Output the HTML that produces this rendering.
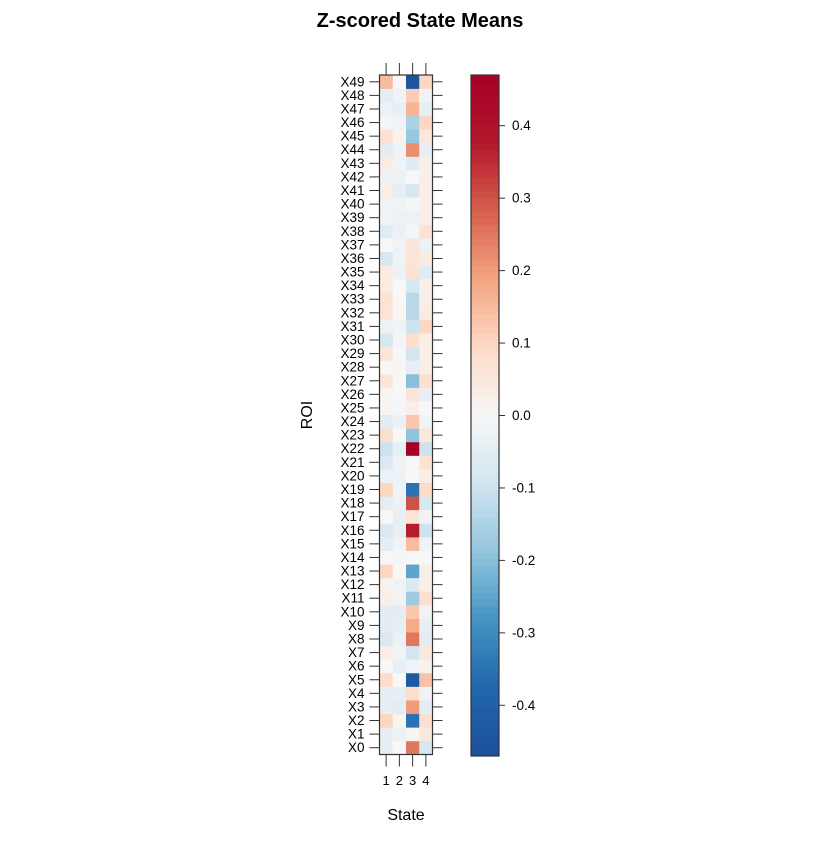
<!DOCTYPE html>
<html><head><meta charset="utf-8"><style>
body{margin:0;background:#fff}
svg text{font-family:"Liberation Sans",Arial,sans-serif}
</style></head><body>
<svg id="c" width="840" height="840" xmlns="http://www.w3.org/2000/svg">
<text x="420" y="27" text-anchor="middle" font-size="20" font-weight="bold">Z-scored State Means</text>
<text x="406" y="820" text-anchor="middle" font-size="16">State</text>
<text transform="translate(312,415) rotate(-90)" text-anchor="middle" font-size="16">ROI</text>
<g id="cells"></g>
<g id="axes"></g>
<g id="cbar"></g>
</svg>
<script>
const states = ["1","2","3","4"];
const rois = ["X0","X1","X2","X3","X4","X5","X6","X7","X8","X9","X10","X11","X12","X13","X14","X15","X16","X17","X18","X19","X20","X21","X22","X23","X24","X25","X26","X27","X28","X29","X30","X31","X32","X33","X34","X35","X36","X37","X38","X39","X40","X41","X42","X43","X44","X45","X46","X47","X48","X49"];
const state1 = [-0.04,-0.04,0.10,-0.04,-0.04,0.09,0.0,0.03,-0.07,-0.05,-0.05,0.03,0.02,0.10,0.0,-0.05,-0.07,0.0,-0.05,0.10,-0.03,-0.07,-0.10,0.08,-0.05,0.01,0.01,0.06,0.0,0.06,-0.08,-0.03,0.06,0.07,0.04,0.04,-0.08,0.0,-0.06,-0.02,-0.02,0.03,-0.03,0.04,-0.05,0.07,-0.01,-0.03,-0.05,0.15];
const state2 = [0.0,-0.03,0.01,-0.05,-0.04,0.0,-0.04,-0.02,-0.03,-0.04,-0.05,-0.02,-0.02,0.0,-0.01,-0.02,-0.04,-0.04,-0.03,-0.02,-0.03,-0.02,-0.04,0.0,-0.03,-0.01,0.0,0.0,-0.01,0.0,-0.01,-0.02,0.01,0.0,0.0,-0.03,-0.02,-0.02,-0.03,-0.03,-0.02,-0.04,-0.03,-0.02,-0.02,0.02,-0.02,-0.04,-0.02,0.0];
const state3 = [0.25,0.01,-0.35,0.20,0.08,-0.43,-0.02,-0.09,0.25,0.18,0.13,-0.17,-0.07,-0.25,0.0,0.15,0.37,0.06,0.30,-0.35,0.0,0.0,0.47,-0.19,0.13,0.03,0.06,-0.20,-0.04,-0.09,0.08,-0.10,-0.13,-0.13,-0.08,0.07,0.06,0.06,-0.01,-0.03,-0.01,-0.08,0.0,-0.06,0.22,-0.18,-0.15,0.16,0.12,-0.45];
const state4 = [-0.08,0.05,0.08,-0.05,-0.02,0.14,0.02,0.05,-0.05,-0.04,-0.02,0.08,0.03,0.03,0.0,-0.02,-0.10,-0.02,-0.08,0.09,0.03,0.07,-0.10,0.05,-0.02,0.0,-0.04,0.08,0.03,0.03,0.03,0.10,0.04,0.03,0.03,-0.06,0.04,-0.03,0.07,0.03,0.03,0.03,0.03,0.03,-0.04,0.05,0.10,-0.04,-0.02,0.10];
const colorTicks = [0.4,0.3,0.2,0.1,0.0,-0.1,-0.2,-0.3,-0.4];
const series=[state1,state2,state3,state4];
const vmin=-0.47,vmax=0.47;
const X0=379.5,X1=432.5,Y0=75,Y1=754.5;
const cw=(X1-X0)/states.length, rh=(Y1-Y0)/rois.length;
const pal=["#1c4f9c","#2166ac","#4393c3","#92c5de","#d1e5f0","#f7f7f7","#fddbc7","#f4a582","#d6604d","#b2182b","#a50026"];
function hex(h){return [1,3,5].map(i=>parseInt(h.substr(i,2),16));}
function color(v){let t=(v-vmin)/(vmax-vmin);t=Math.max(0,Math.min(1,t))*(pal.length-1);const i=Math.min(Math.floor(t),pal.length-2),f=t-i;const a=hex(pal[i]),b=hex(pal[i+1]);return "rgb("+a.map((x,k)=>Math.round(x+(b[k]-x)*f)).join(",")+")";}
const xS=i=>X0+i*cw, yS=j=>Y1-(j+1)*rh;
const NS="http://www.w3.org/2000/svg";
function mk(tag,at,parent){const e=document.createElementNS(NS,tag);for(const k in at)e.setAttribute(k,at[k]);parent.appendChild(e);return e;}
const cells=document.getElementById('cells'),axes=document.getElementById('axes'),cbar=document.getElementById('cbar');
series.forEach((s,i)=>s.forEach((v,j)=>{
 const r=mk('rect',{x:xS(i),y:yS(j),width:cw+0.3,height:rh+0.3,fill:color(v)},cells);
 
 
}));
const box=mk('rect',{x:X0,y:Y0,width:X1-X0,height:Y1-Y0,fill:'none',stroke:'#333','stroke-width':1.2},axes);


rois.forEach((r,j)=>{
 const y=yS(j)+rh/2;
 mk('line',{x1:X0-10,x2:X0,y1:y,y2:y,stroke:'#333'},axes);
 mk('line',{x1:X1,x2:X1+10,y1:y,y2:y,stroke:'#333'},axes);
 const t=mk('text',{x:X0-15,y:y+4.5,'text-anchor':'end','font-size':13.5},axes);t.textContent=r;
 
 
});
states.forEach((s,i)=>{
 const x=xS(i)+cw/2;
 mk('line',{x1:x,x2:x,y1:Y0-12,y2:Y0,stroke:'#333'},axes);
 mk('line',{x1:x,x2:x,y1:Y1,y2:Y1+12,stroke:'#333'},axes);
 const t=mk('text',{x:x,y:785,'text-anchor':'middle','font-size':13},axes);t.textContent=s;
 
 
});
const CX=471,CW=28,CY0=75,CY1=756;
const cy=v=>CY1-(v-vmin)/(vmax-vmin)*(CY1-CY0);
const N=100;
for(let k=0;k<N;k++){const v=vmin+(k+0.5)*(vmax-vmin)/N;const y=CY1-(k+1)*(CY1-CY0)/N;
 const r=mk('rect',{x:CX,y:y,width:CW,height:(CY1-CY0)/N+0.5,fill:color(v)},cbar);
 
 }
mk('rect',{x:CX,y:CY0,width:CW,height:CY1-CY0,fill:'none',stroke:'#333','stroke-width':1.2},cbar);
colorTicks.forEach(v=>{const y=cy(v);
 mk('line',{x1:CX+CW,x2:CX+CW+6,y1:y,y2:y,stroke:'#333'},cbar);
 const t=mk('text',{x:512,y:y+4.5,'font-size':13.5},cbar);t.textContent=v.toFixed(1);
 
 
});
</script>
</body></html>
